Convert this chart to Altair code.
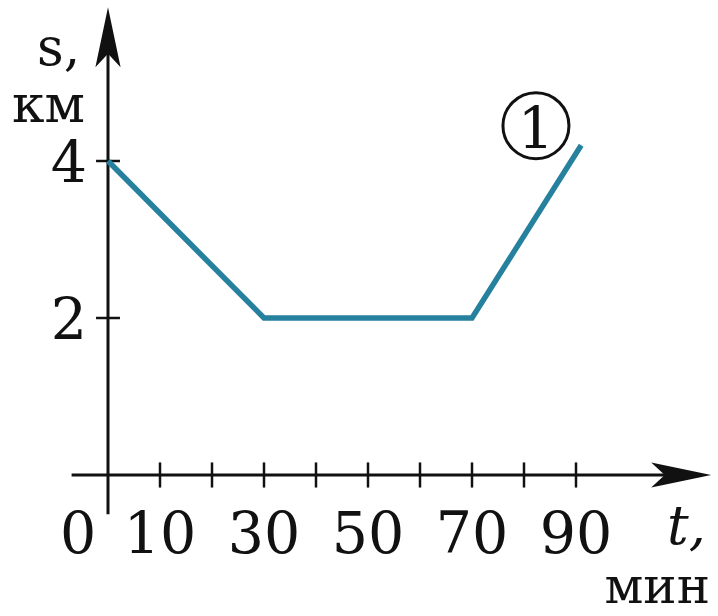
import altair as alt
import pandas as pd

# Distance-time graph: s (km) against t (min)
t_points = [0, 30, 70, 91]
s_points = [4, 2, 2, 4.2]

x_tick_values = [10, 20, 30, 40, 50, 60, 70, 80, 90]
x_label_values = [10, 30, 50, 70, 90]
y_tick_values = [2, 4]

t_axis_end = 116
s_axis_end = 5.96
t_axis_start = -7
s_axis_start = -0.5

curve_label = "1"
curve_label_t = 82.3
curve_label_s = 4.45

# Layout of the canvas (pixels)
W, H = 718, 616
ORIGIN_X, ORIGIN_Y = 108, 475
PX_PER_MIN, PX_PER_KM = 5.2, 78.5

x_dom = [-ORIGIN_X / PX_PER_MIN, (W - ORIGIN_X) / PX_PER_MIN]
y_dom = [(ORIGIN_Y - H) / PX_PER_KM, ORIGIN_Y / PX_PER_KM]

xs = alt.Scale(domain=x_dom, nice=False, zero=False)
ys = alt.Scale(domain=y_dom, nice=False, zero=False)

SERIF = "DejaVu Serif"
INK = "#111111"


def X(field):
    return alt.X(field, type="quantitative", scale=xs, axis=None)


def Y(field):
    return alt.Y(field, type="quantitative", scale=ys, axis=None)


# Axis lines
axes_df = pd.DataFrame({
    "x": [t_axis_start, 0],
    "x2": [t_axis_end - 2, 0],
    "y": [0, s_axis_start],
    "y2": [0, s_axis_end - 0.5],
})
axes = alt.Chart(axes_df).mark_rule(color=INK, strokeWidth=3).encode(
    x=X("x"), x2="x2", y=Y("y"), y2="y2"
)

# Arrowheads (tip of the path sits at the symbol origin)
arrow_path = "M0,0 L0.42,2 L0,1.55 L-0.42,2 Z"
arrows_df = pd.DataFrame({
    "x": [0, t_axis_end],
    "y": [s_axis_end, 0],
    "angle": [0, 90],
})
arrows = alt.Chart(arrows_df).mark_point(
    shape=arrow_path, filled=True, color=INK, size=3600, opacity=1
).encode(
    x=X("x"), y=Y("y"),
    angle=alt.Angle("angle:Q", scale=None),
)

# Tick marks crossing the axes
xt_df = pd.DataFrame({"x": x_tick_values})
xt_df["lo"] = -0.16
xt_df["hi"] = 0.16
x_ticks = alt.Chart(xt_df).mark_rule(color=INK, strokeWidth=2.5).encode(
    x=X("x"), y=Y("lo"), y2="hi"
)
yt_df = pd.DataFrame({"y": y_tick_values})
yt_df["lo"] = -2.3
yt_df["hi"] = 2.3
y_ticks = alt.Chart(yt_df).mark_rule(color=INK, strokeWidth=2.5).encode(
    y=Y("y"), x=X("lo"), x2="hi"
)

# Tick labels
xl_df = pd.DataFrame({"x": x_label_values, "label": [str(v) for v in x_label_values]})
xl_df["y"] = 0
x_labels = alt.Chart(xl_df).mark_text(
    font=SERIF, fontSize=57, color=INK, align="center", baseline="alphabetic", dy=78
).encode(x=X("x"), y=Y("y"), text="label:N")

zero_df = pd.DataFrame({"x": [0], "y": [0], "label": ["0"]})
zero_label = alt.Chart(zero_df).mark_text(
    font=SERIF, fontSize=57, color=INK, align="center", baseline="alphabetic", dy=78, dx=-30
).encode(x=X("x"), y=Y("y"), text="label:N")

yl_df = pd.DataFrame({"y": y_tick_values, "label": [str(v) for v in y_tick_values]})
yl_df["x"] = 0
y_labels = alt.Chart(yl_df).mark_text(
    font=SERIF, fontSize=57, color=INK, align="right", baseline="alphabetic", dx=-21, dy=21
).encode(x=X("x"), y=Y("y"), text="label:N")

# Axis titles
titles_df = pd.DataFrame({
    "text": ["s,", "км", "t,", "мин"],
    "px": [37, 12, 667, 710],
    "py": [65, 122, 544, 603],
    "size": [52, 52, 54, 50],
    "align": ["left", "left", "left", "right"],
    "style": ["normal", "normal", "italic", "normal"],
})


def title_layer(row):
    return alt.Chart(pd.DataFrame({"text": [row.text]})).mark_text(
        font=SERIF, fontSize=row.size, color=INK, align=row.align,
        baseline="alphabetic", fontStyle=row.style,
    ).encode(x=alt.value(row.px), y=alt.value(row.py), text="text:N")


titles = [title_layer(r) for r in titles_df.itertuples()]

# The graph itself
line_df = pd.DataFrame({"t": t_points, "s": s_points})
graph = alt.Chart(line_df).mark_line(
    color="#26819f", strokeWidth=5.5, strokeJoin="miter"
).encode(x=X("t"), y=Y("s"), order="t:Q")

# Circled curve number
mark_df = pd.DataFrame({"t": [curve_label_t], "s": [curve_label_s], "label": [curve_label]})
circle = alt.Chart(mark_df).mark_point(
    shape="circle", filled=False, color=INK, strokeWidth=3, size=66 * 66, opacity=1
).encode(x=X("t"), y=Y("s"))
circle_text = alt.Chart(mark_df).mark_text(
    font=SERIF, fontSize=57, color=INK, align="center", baseline="alphabetic", dy=22
).encode(x=X("t"), y=Y("s"), text="label:N")

chart = alt.layer(
    axes, arrows, x_ticks, y_ticks, graph, x_labels, zero_label, y_labels,
    *titles, circle, circle_text
).properties(
    width=W, height=H, padding=0, autosize=alt.AutoSizeParams(type="none"),
    background="white",
).configure_view(stroke=None)

chart.save("out.html", embed_options={"renderer": "svg", "actions": False})
